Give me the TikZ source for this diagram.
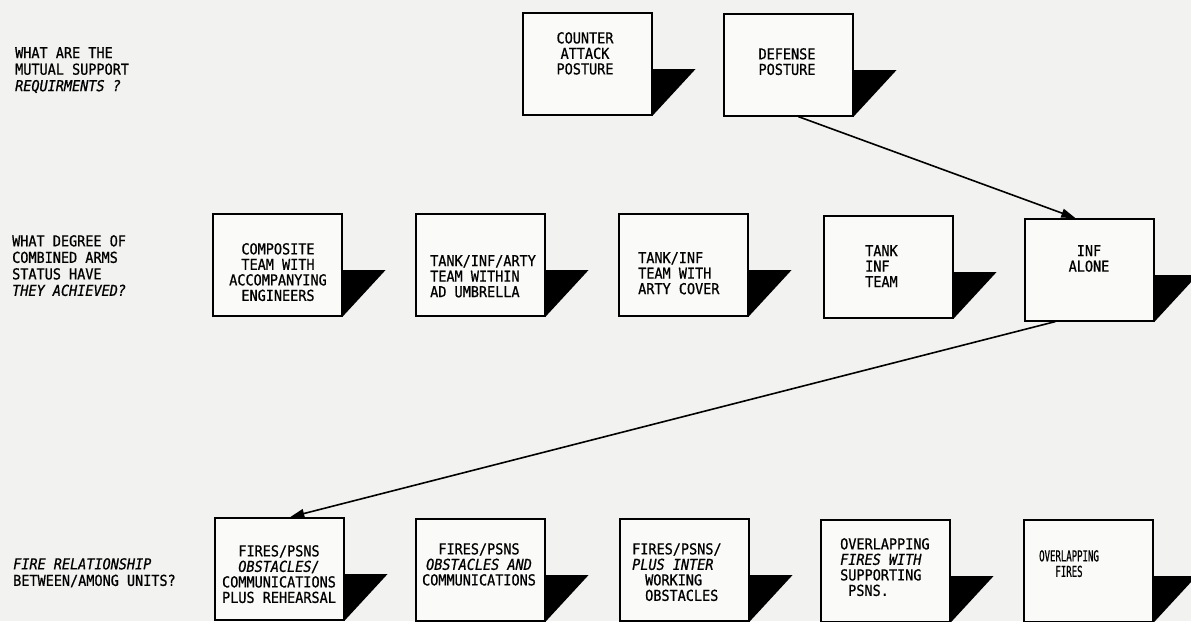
\documentclass[tikz,border=0pt]{standalone}
\usepackage{fontspec}
\setmainfont{DejaVu Sans Mono}[FakeStretch=0.9, FakeBold=0.8]
\newfontfamily\narrowfont{DejaVu Sans Mono}[FakeStretch=0.6, FakeBold=0.8]
\usetikzlibrary{arrows.meta,calc}
\definecolor{paper}{RGB}{242,242,240}
\tikzset{
  box/.style={draw=black, line width=1.6pt, fill=white!60!paper, minimum width=129pt, minimum height=102pt, anchor=north west, inner sep=0pt},
  txt/.style={font=\fontsize{15}{15.5}\selectfont, inner sep=0pt},
  lbl/.style={font=\fontsize{15}{16.5}\selectfont, inner sep=0pt, anchor=north west, align=left},
  arr/.style={line width=1.6pt, -{Triangle[length=14pt,width=9pt]}},
  shadowfill/.style={fill=black}
}
\newcommand{\boxshadow}[1]{\fill[shadowfill] ($(#1.north east)+(0,57)$) -- ++(43,0) -- (#1.south east) -- cycle;}
\begin{document}
\begin{tikzpicture}[x=1pt,y=-1pt]
\fill[paper] (0,0) rectangle (1191,621);
\useasboundingbox (0,0) rectangle (1191,621);
\clip (0,0) rectangle (1191,621);

% left labels
\node[lbl] (l1) at (15,47) {WHAT ARE THE\\MUTUAL SUPPORT\\\textit{REQUIRMENTS ?}};
\node[lbl] (l2) at (12,235) {WHAT DEGREE OF\\COMBINED ARMS\\STATUS HAVE\\\textit{THEY ACHIEVED?}};
\node[lbl] (l3) at (13,558) {\textit{FIRE RELATIONSHIP}\\BETWEEN/AMONG UNITS?};

% top row
\node[box] (c) at (522,12) {};
\node[box] (d) at (723,13) {};
\boxshadow{c}
\boxshadow{d}
\node[txt, anchor=north, align=center] (ct) at (585,32) {COUNTER\\ATTACK\\POSTURE};
\node[txt, anchor=north, align=center] (dt) at (787,48) {DEFENSE\\POSTURE};

% middle row
\node[box] (m1) at (212,213) {};
\node[box] (m2) at (415,213) {};
\node[box] (m3) at (618,213) {};
\node[box] (m4) at (823,215) {};
\node[box] (m5) at (1024,218) {};
\boxshadow{m1}
\boxshadow{m2}
\boxshadow{m3}
\boxshadow{m4}
\boxshadow{m5}
\node[txt, anchor=north, align=center] (m1t) at (278,243) {COMPOSITE\\TEAM WITH\\ACCOMPANYING\\ENGINEERS};
\node[txt, anchor=north west, align=left] (m2t) at (430,255) {TANK/INF/ARTY\\TEAM WITHIN\\AD UMBRELLA};
\node[txt, anchor=north west, align=left] (m3t) at (638,252) {TANK/INF\\TEAM WITH\\ARTY COVER};
\node[txt, anchor=north west, align=left] (m4t) at (865,245) {TANK\\INF\\TEAM};
\node[txt, anchor=north, align=center] (m5t) at (1089,245) {INF\\ALONE};

% bottom row
\node[box] (b1) at (214,517) {};
\node[box] (b2) at (415,518) {};
\node[box] (b3) at (619,518) {};
\node[box] (b4) at (820,519) {};
\node[box] (b5) at (1023,519) {};
\boxshadow{b1}
\boxshadow{b2}
\boxshadow{b3}
\boxshadow{b4}
\boxshadow{b5}
\node[txt, anchor=north, align=center] (b1t) at (279,545) {FIRES/PSNS\\\textit{OBSTACLES/}\\COMMUNICATIONS\\PLUS REHEARSAL};
\node[txt, anchor=north, align=center] (b2t) at (479,543) {FIRES/PSNS\\\textit{OBSTACLES AND}\\COMMUNICATIONS};
\node[txt, anchor=north west, align=left] (b3t) at (632,543) {FIRES/PSNS/\\\textit{PLUS INTER}\\\hspace*{13pt}WORKING\\\hspace*{13pt}OBSTACLES};
\node[txt, anchor=north west, align=left] (b4t) at (840,538) {OVERLAPPING\\\textit{FIRES WITH}\\SUPPORTING\\\hspace*{8pt}PSNS.};
\node[txt, anchor=north, align=center, font=\narrowfont\fontsize{15}{15.5}\selectfont] (b5t) at (1069,550) {OVERLAPPING\\FIRES};

% connectors
\draw[arr] ([xshift=10pt]d.south) -- ([xshift=-14pt]m5.north);
\draw[arr] ([xshift=-34pt]m5.south) -- ([xshift=11pt]b1.north);
\end{tikzpicture}
\end{document}
